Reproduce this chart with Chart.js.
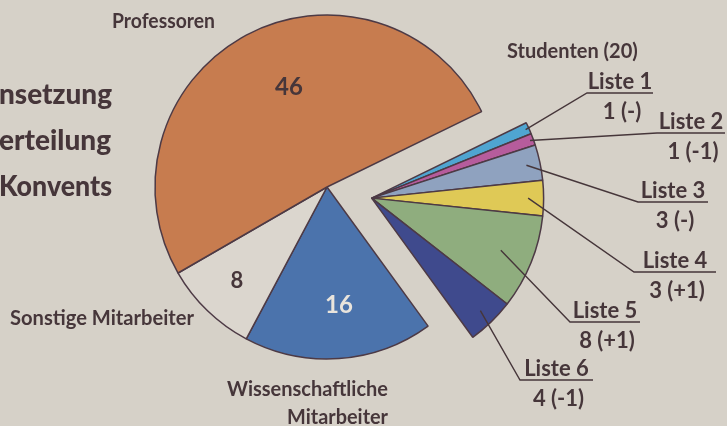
<!DOCTYPE html>
<html>
<head>
<meta charset="utf-8">
<script src="https://cdn.jsdelivr.net/npm/chart.js@4"></script>
<style>
  html, body { margin: 0; padding: 0; background: #d6d1c8; }
  #wrap { width: 727px; height: 426px; position: relative; }
</style>
</head>
<body>
<div id="wrap"><canvas id="konvent"></canvas></div>
<script>
// seats in the Konvent, listed clockwise starting at the student lists
const categories = ['Liste 1', 'Liste 2', 'Liste 3', 'Liste 4', 'Liste 5', 'Liste 6',
    'Wissenschaftliche Mitarbeiter', 'Sonstige Mitarbeiter', 'Professoren'];
const seats = [1, 1, 3, 3, 8, 4, 16, 8, 46];
const changes = ['(-)', '(-1)', '(-)', '(+1)', '(+1)', '(-1)'];
const sliceColors = ['#4fa5d1', '#b65c9c', '#8fa2bf', '#dfc956', '#8fad7e', '#3f4a8d',
    '#4b73ac', '#dbd6ce', '#c77c4f'];
const listCount = 6;
const titleLines = ['nsetzung', 'erteilung', 'Konvents'];

const INK = '#46363a';
const studentTotal = seats.slice(0, listCount).reduce((a, b) => a + b, 0);

// the student wedges are pulled out together, as one block
const groupShift = { dist: 46, angle: 104 };

// where the list labels sit (underline ends + y), and how deep the leader starts
const listLabels = [
    { x1: 587, x2: 653, y: 93, depth: 0.98 },
    { x1: 657, x2: 725, y: 133, depth: 0.98 },
    { x1: 638, x2: 708, y: 202, depth: 0.92 },
    { x1: 634, x2: 716, y: 272, depth: 0.91 },
    { x1: 570, x2: 640, y: 322, depth: 0.81 },
    { x1: 520, x2: 593, y: 380, depth: 0.91 }
];

const explodeStudents = {
    id: 'explodeStudents',
    afterDatasetsUpdate(chart) {
        const a = groupShift.angle * Math.PI / 180;
        const dx = Math.sin(a) * groupShift.dist;
        const dy = -Math.cos(a) * groupShift.dist;
        chart.getDatasetMeta(0).data.forEach((arc, i) => {
            if (i < listCount) { arc.x += dx; arc.y += dy; }
        });
    }
};

function txt(ctx, s, x, y, font, align, maxW, color) {
    ctx.font = font;
    ctx.textAlign = align || 'left';
    ctx.fillStyle = color || INK;
    if (maxW) ctx.fillText(s, x, y, maxW); else ctx.fillText(s, x, y);
}

const annotations = {
    id: 'annotations',
    afterDraw(chart) {
        const ctx = chart.ctx;
        const arcs = chart.getDatasetMeta(0).data;
        ctx.save();
        ctx.textBaseline = 'alphabetic';

        // title, cut off at the left edge like the clipping
        titleLines.forEach((t, i) => txt(ctx, t, -1, 104 + i * 46, '900 28px Lato', 'left', 113));

        // category labels
        txt(ctx, categories[8], 215, 28, 'bold 20px Lato', 'right', 103);
        txt(ctx, categories[7], 10, 325, 'bold 21px Lato', 'left', 184);
        txt(ctx, 'Wissenschaftliche', 388, 396, 'bold 21px Lato', 'right', 161);
        txt(ctx, 'Mitarbeiter', 388, 424, 'bold 21px Lato', 'right', 101);
        txt(ctx, 'Studenten (' + studentTotal + ')', 507, 58, 'bold 20px Lato', 'left', 138);

        // numbers inside the big wedges
        txt(ctx, String(seats[8]), 289, 95, 'bold 24px Lato', 'center');
        txt(ctx, String(seats[7]), 237, 288, 'bold 22px Lato', 'center');
        txt(ctx, String(seats[6]), 339, 313, 'bold 24px Lato', 'center', null, '#e9e4dc');

        // student lists with leader lines
        ctx.strokeStyle = INK;
        ctx.lineWidth = 1.4;
        listLabels.forEach((lab, i) => {
            const p = arcs[i].getProps(['x', 'y', 'startAngle', 'endAngle', 'outerRadius'], true);
            const mid = (p.startAngle + p.endAngle) / 2;
            const r = p.outerRadius * lab.depth;
            ctx.beginPath();
            ctx.moveTo(p.x + Math.cos(mid) * r, p.y + Math.sin(mid) * r);
            ctx.lineTo(lab.x1, lab.y);
            ctx.lineTo(lab.x2, lab.y);
            ctx.stroke();
            const cx = (lab.x1 + lab.x2) / 2;
            txt(ctx, categories[i], cx, lab.y - 4, 'bold 22px Lato', 'center', 66);
            txt(ctx, seats[i] + ' ' + changes[i], cx + 2, lab.y + 26, 'bold 22px Lato', 'center', 60);
        });
        ctx.restore();
    }
};

new Chart(document.getElementById('konvent'), {
    type: 'pie',
    data: {
        labels: categories,
        datasets: [{
            data: seats,
            backgroundColor: sliceColors,
            borderColor: '#4d3a45',
            borderWidth: 1.5,
            radius: 172
        }]
    },
    options: {
        responsive: true,
        maintainAspectRatio: false,
        animation: false,
        rotation: 64,
        layout: { padding: { left: 0, right: 73, top: 0, bottom: 52 } },
        plugins: {
            legend: { display: false },
            tooltip: { enabled: false }
        }
    },
    plugins: [explodeStudents, annotations]
});
</script>
</body>
</html>
